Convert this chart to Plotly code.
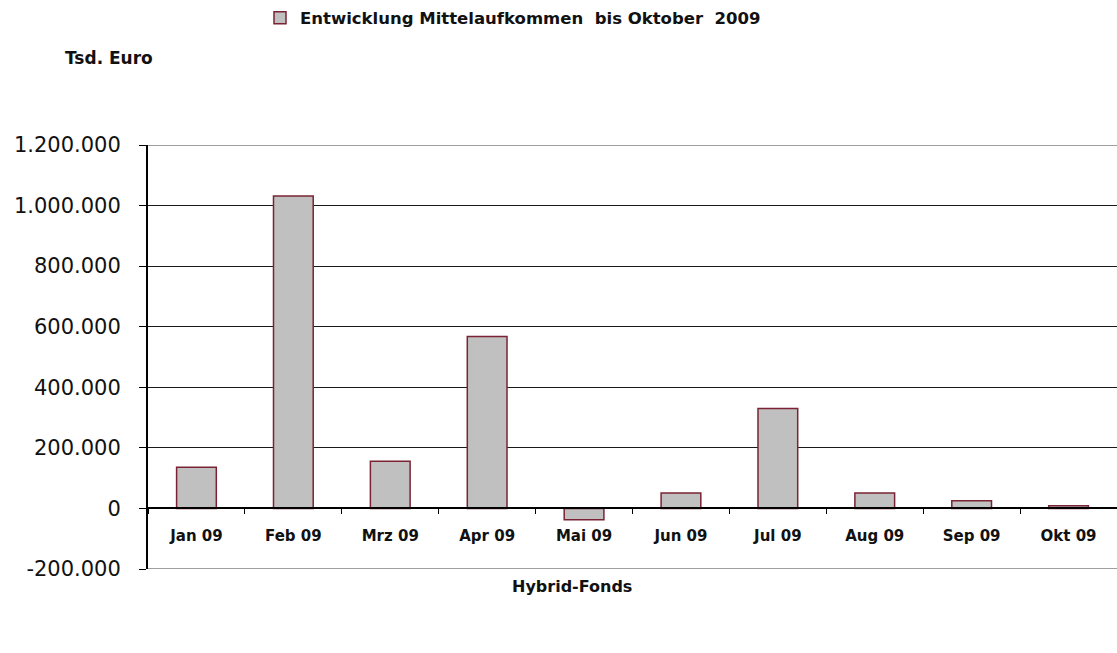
import plotly.graph_objects as go

months = ["Jan 09", "Feb 09", "Mrz 09", "Apr 09", "Mai 09", "Jun 09", "Jul 09", "Aug 09", "Sep 09", "Okt 09"]
values = [136000, 1032000, 156000, 568000, -37000, 51000, 330000, 51000, 25000, 9000]
series_name = "Entwicklung Mittelaufkommen  bis Oktober  2009"
y_ticks = [-200000, 0, 200000, 400000, 600000, 800000, 1000000, 1200000]
y_tick_text = ["-200.000", "0", "200.000", "400.000", "600.000", "800.000", "1.000.000", "1.200.000"]
y_min, y_max = -200000, 1200000

FONT = "DejaVu Sans"

W, H = 1117, 653
L, R, T, B = 148, 0, 145, 84
plot_h = H - T - B
plot_w = W - L - R
zero_frac = (0 - y_min) / (y_max - y_min)


def px_x(px):
    return (px - L) / plot_w


def px_y(py):
    return (H - B - py) / plot_h


fig = go.Figure()
fig.add_trace(go.Bar(
    x=months, y=values, name=series_name,
    marker=dict(color="#c0c0c0", line=dict(color="#7b2335", width=1.5)),
    width=0.41, showlegend=True,
))

fig.update_layout(
    width=W, height=H,
    margin=dict(l=L, r=R, t=T, b=B, pad=0, autoexpand=False),
    paper_bgcolor="white", plot_bgcolor="white",
    font=dict(family=FONT, color="#111111"),
    showlegend=True,
    legend=dict(
        orientation="h", x=px_x(260), xanchor="left",
        y=px_y(18), yanchor="middle",
        font=dict(family=FONT, size=16.5, color="#111111", weight="bold"),
        bgcolor="rgba(0,0,0,0)",
    ),
    xaxis=dict(
        type="category", range=[-0.5, 9.5],
        anchor="free", position=zero_frac,
        showline=True, linecolor="black", linewidth=2,
        ticks="outside", tickson="boundaries", ticklen=5, tickcolor="black", tickwidth=1,
        tickfont=dict(family=FONT, size=15, color="#111111", weight="bold"),
        ticklabelstandoff=14,
        showgrid=False,
    ),
    yaxis=dict(
        range=[y_min, y_max],
        tickvals=y_ticks, ticktext=y_tick_text,
        showline=True, linecolor="black", linewidth=2,
        ticks="outside", ticklen=7, tickcolor="black", tickwidth=1,
        tickfont=dict(family=FONT, size=21, color="#111111"),
        ticklabelstandoff=14,
        showgrid=True, gridcolor="#1a1a1a", gridwidth=1.2,
        zeroline=True, zerolinecolor="black", zerolinewidth=2,
    ),
    shapes=[
        dict(type="line", xref="paper", yref="y", x0=0, x1=1, y0=y_max, y1=y_max,
             line=dict(color="#7f7f7f", width=1.5), layer="below"),
        dict(type="line", xref="paper", yref="y", x0=0, x1=1, y0=y_min, y1=y_min,
             line=dict(color="#7f7f7f", width=1.5), layer="below"),
    ],
    annotations=[
        dict(text="<b>Tsd. Euro</b>", x=px_x(63), y=px_y(58), xref="paper", yref="paper",
             xanchor="left", yanchor="middle", showarrow=False,
             font=dict(family=FONT, size=17, color="#111111")),
        dict(text="<b>Hybrid-Fonds</b>", x=px_x(572), y=px_y(586), xref="paper", yref="paper",
             xanchor="center", yanchor="middle", showarrow=False,
             font=dict(family=FONT, size=16, color="#111111")),
    ],
)

fig.write_html(
    "out.html",
    config={"displayModeBar": False},
    post_script="document.body.style.margin='0px';document.body.style.overflow='hidden';",
)
